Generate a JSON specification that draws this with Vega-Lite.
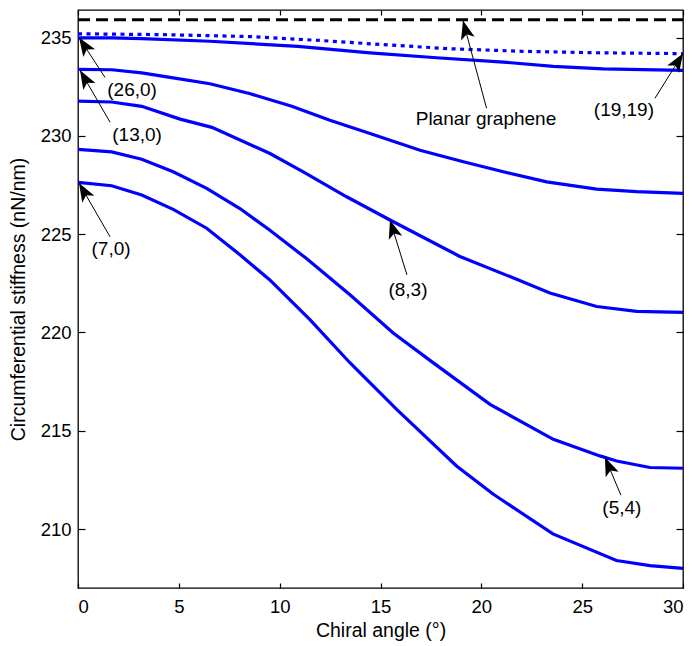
{
  "$schema": "https://vega.github.io/schema/vega-lite/v6.json",
  "autosize": {"type": "none"},
  "padding": {"left": 78, "top": 10, "right": 11, "bottom": 58},
  "width": 605,
  "height": 578,
  "background": "white",
  "config": {
    "view": {"stroke": "black", "strokeWidth": 1.3},
    "font": "Liberation Sans",
    "axis": {
      "domain": false,
      "grid": false,
      "tickColor": "black",
      "tickWidth": 1.2,
      "labelColor": "black",
      "labelFont": "Liberation Sans",
      "labelFontSize": 18.5,
      "titleColor": "black",
      "titleFont": "Liberation Sans",
      "titleFontSize": 19.5,
      "titleFontWeight": "normal"
    }
  },
  "datasets": {
    "solid": [
      {"tube": "a", "angle": 0, "stiffness": 234.98},
      {"tube": "a", "angle": 1.67, "stiffness": 234.98},
      {"tube": "a", "angle": 3.16, "stiffness": 234.94},
      {"tube": "a", "angle": 6.54, "stiffness": 234.81},
      {"tube": "a", "angle": 10.9, "stiffness": 234.55},
      {"tube": "a", "angle": 14.48, "stiffness": 234.22},
      {"tube": "a", "angle": 17.78, "stiffness": 233.97},
      {"tube": "a", "angle": 21.09, "stiffness": 233.75},
      {"tube": "a", "angle": 23.57, "stiffness": 233.53},
      {"tube": "a", "angle": 26.04, "stiffness": 233.41},
      {"tube": "a", "angle": 30, "stiffness": 233.33},

      {"tube": "b", "angle": 0, "stiffness": 233.38},
      {"tube": "b", "angle": 1.67, "stiffness": 233.36},
      {"tube": "b", "angle": 3.16, "stiffness": 233.2},
      {"tube": "b", "angle": 4.72, "stiffness": 232.95},
      {"tube": "b", "angle": 6.54, "stiffness": 232.65},
      {"tube": "b", "angle": 8.5, "stiffness": 232.15},
      {"tube": "b", "angle": 10.6, "stiffness": 231.5},
      {"tube": "b", "angle": 12.49, "stiffness": 230.79},
      {"tube": "b", "angle": 14.48, "stiffness": 230.12},
      {"tube": "b", "angle": 16.96, "stiffness": 229.27},
      {"tube": "b", "angle": 19.11, "stiffness": 228.68},
      {"tube": "b", "angle": 21.09, "stiffness": 228.17},
      {"tube": "b", "angle": 23.24, "stiffness": 227.66},
      {"tube": "b", "angle": 25.72, "stiffness": 227.29},
      {"tube": "b", "angle": 27.7, "stiffness": 227.16},
      {"tube": "b", "angle": 30, "stiffness": 227.07},

      {"tube": "c", "angle": 0, "stiffness": 231.77},
      {"tube": "c", "angle": 1.67, "stiffness": 231.72},
      {"tube": "c", "angle": 3.16, "stiffness": 231.5},
      {"tube": "c", "angle": 5.06, "stiffness": 230.85},
      {"tube": "c", "angle": 6.64, "stiffness": 230.43},
      {"tube": "c", "angle": 9.52, "stiffness": 229.1},
      {"tube": "c", "angle": 11.17, "stiffness": 228.17},
      {"tube": "c", "angle": 13.32, "stiffness": 226.9},
      {"tube": "c", "angle": 15.47, "stiffness": 225.72},
      {"tube": "c", "angle": 18.94, "stiffness": 223.86},
      {"tube": "c", "angle": 21.42, "stiffness": 222.84},
      {"tube": "c", "angle": 23.4, "stiffness": 222.0},
      {"tube": "c", "angle": 25.72, "stiffness": 221.32},
      {"tube": "c", "angle": 27.7, "stiffness": 221.07},
      {"tube": "c", "angle": 30, "stiffness": 221.02},

      {"tube": "d", "angle": 0, "stiffness": 229.31},
      {"tube": "d", "angle": 1.67, "stiffness": 229.18},
      {"tube": "d", "angle": 3.16, "stiffness": 228.81},
      {"tube": "d", "angle": 4.72, "stiffness": 228.17},
      {"tube": "d", "angle": 6.38, "stiffness": 227.33},
      {"tube": "d", "angle": 8.03, "stiffness": 226.3},
      {"tube": "d", "angle": 9.5, "stiffness": 225.21},
      {"tube": "d", "angle": 11.3, "stiffness": 223.78},
      {"tube": "d", "angle": 13.5, "stiffness": 221.9},
      {"tube": "d", "angle": 15.63, "stiffness": 219.97},
      {"tube": "d", "angle": 17.62, "stiffness": 218.45},
      {"tube": "d", "angle": 20.43, "stiffness": 216.34},
      {"tube": "d", "angle": 23.57, "stiffness": 214.56},
      {"tube": "d", "angle": 25.88, "stiffness": 213.72},
      {"tube": "d", "angle": 26.71, "stiffness": 213.46},
      {"tube": "d", "angle": 28.36, "stiffness": 213.13},
      {"tube": "d", "angle": 30, "stiffness": 213.09},

      {"tube": "e", "angle": 0, "stiffness": 227.63},
      {"tube": "e", "angle": 1.67, "stiffness": 227.46},
      {"tube": "e", "angle": 3.16, "stiffness": 226.99},
      {"tube": "e", "angle": 4.72, "stiffness": 226.26},
      {"tube": "e", "angle": 6.38, "stiffness": 225.3},
      {"tube": "e", "angle": 8.03, "stiffness": 223.95},
      {"tube": "e", "angle": 9.5, "stiffness": 222.68},
      {"tube": "e", "angle": 11.5, "stiffness": 220.65},
      {"tube": "e", "angle": 13.47, "stiffness": 218.47},
      {"tube": "e", "angle": 15.8, "stiffness": 216.09},
      {"tube": "e", "angle": 18.77, "stiffness": 213.21},
      {"tube": "e", "angle": 20.58, "stiffness": 211.78},
      {"tube": "e", "angle": 23.55, "stiffness": 209.75},
      {"tube": "e", "angle": 26.7, "stiffness": 208.4},
      {"tube": "e", "angle": 28.36, "stiffness": 208.14},
      {"tube": "e", "angle": 30, "stiffness": 208.0}
    ],
    "dotted": [
      {"angle": 0, "stiffness": 235.19},
      {"angle": 4, "stiffness": 235.15},
      {"angle": 8.5, "stiffness": 235.05},
      {"angle": 12, "stiffness": 234.85},
      {"angle": 14.97, "stiffness": 234.65},
      {"angle": 18.44, "stiffness": 234.43},
      {"angle": 22, "stiffness": 234.3},
      {"angle": 26, "stiffness": 234.22},
      {"angle": 30, "stiffness": 234.18}
    ],
    "planar": [
      {"angle": 0, "stiffness": 235.91},
      {"angle": 30, "stiffness": 235.91}
    ],
    "notes": [
      {"label": "(26,0)", "tipX": 0.05, "tipY": 235.0, "tailX": 1.34, "tailY": 232.97, "textX": 2.68, "textY": 232.31},
      {"label": "(13,0)", "tipX": 0.1, "tipY": 233.33, "tailX": 1.59, "tailY": 230.69, "textX": 2.93, "textY": 230.03},
      {"label": "(7,0)", "tipX": 0.05, "tipY": 227.6, "tailX": 1.59, "tailY": 224.86, "textX": 1.64, "textY": 224.25},
      {"label": "(8,3)", "tipX": 15.47, "tipY": 225.72, "tailX": 16.31, "tailY": 222.93, "textX": 16.36, "textY": 222.17},
      {"label": "(5,4)", "tipX": 26.13, "tipY": 213.65, "tailX": 26.92, "tailY": 211.72, "textX": 26.97, "textY": 211.06},
      {"label": "(19,19)", "tipX": 30, "tipY": 234.19, "tailX": 28.61, "tailY": 231.91, "textX": 27.07, "textY": 231.3},
      {"label": "Planar graphene", "tipX": 19.09, "tipY": 235.86, "tailX": 20.26, "tailY": 231.4, "textX": 20.23, "textY": 230.84}
    ]
  },
  "resolve": {"axis": {"x": "independent", "y": "independent"}},
  "layer": [
    {
      "data": {"name": "solid"},
      "mark": {"type": "line", "color": "#0000ff", "strokeWidth": 3.2, "clip": true},
      "encoding": {
        "x": {
          "field": "angle", "type": "quantitative",
          "scale": {"domain": [0, 30], "nice": false, "zero": false},
          "axis": {
            "orient": "bottom", "values": [0, 5, 10, 15, 20, 25, 30],
            "tickSize": -5, "labelPadding": 14, "title": "Chiral angle (°)", "titlePadding": 6
          }
        },
        "y": {
          "field": "stiffness", "type": "quantitative",
          "scale": {"domain": [207, 236.4], "nice": false, "zero": false},
          "axis": {
            "orient": "left", "values": [210, 215, 220, 225, 230, 235],
            "tickSize": -7, "labelPadding": 14, "title": "Circumferential stiffness (nN/nm)", "titlePadding": 12
          }
        },
        "detail": {"field": "tube"}
      }
    },
    {
      "data": {"name": "planar"},
      "mark": {"type": "line", "color": "black", "strokeWidth": 3, "strokeDash": [12, 6]},
      "encoding": {
        "x": {
          "field": "angle", "type": "quantitative",
          "axis": {"orient": "top", "values": [0, 5, 10, 15, 20, 25, 30], "tickSize": -5, "labels": false, "title": null}
        },
        "y": {
          "field": "stiffness", "type": "quantitative",
          "axis": {"orient": "right", "values": [210, 215, 220, 225, 230, 235], "tickSize": -7, "labels": false, "title": null}
        }
      }
    },
    {
      "data": {"name": "dotted"},
      "mark": {"type": "line", "color": "#0000ff", "strokeWidth": 3.2, "strokeDash": [4, 4.5]},
      "encoding": {
        "x": {"field": "angle", "type": "quantitative", "axis": null},
        "y": {"field": "stiffness", "type": "quantitative", "axis": null}
      }
    },
    {
      "data": {"name": "notes"},
      "mark": {"type": "rule", "color": "black", "strokeWidth": 1},
      "encoding": {
        "x": {"field": "tipX", "type": "quantitative", "axis": null},
        "y": {"field": "tipY", "type": "quantitative", "axis": null},
        "x2": {"field": "tailX"},
        "y2": {"field": "tailY"}
      }
    },
    {
      "data": {"name": "notes"},
      "transform": [
        {"calculate": "atan2(-(datum.tailX - datum.tipX) * 20.17, -(datum.tailY - datum.tipY) * 19.66) * 180 / PI", "as": "heading"}
      ],
      "mark": {
        "type": "point",
        "shape": "M0,0 L0.64,1.7 L0,1.3 L-0.64,1.7 Z",
        "filled": true,
        "color": "black",
        "opacity": 1,
        "size": 480
      },
      "encoding": {
        "x": {"field": "tipX", "type": "quantitative", "axis": null},
        "y": {"field": "tipY", "type": "quantitative", "axis": null},
        "angle": {"field": "heading", "type": "quantitative", "scale": null}
      }
    },
    {
      "data": {"name": "notes"},
      "mark": {"type": "text", "font": "Liberation Sans", "fontSize": 19, "color": "black", "align": "center", "baseline": "middle"},
      "encoding": {
        "x": {"field": "textX", "type": "quantitative", "axis": null},
        "y": {"field": "textY", "type": "quantitative", "axis": null},
        "text": {"field": "label"}
      }
    }
  ]
}
